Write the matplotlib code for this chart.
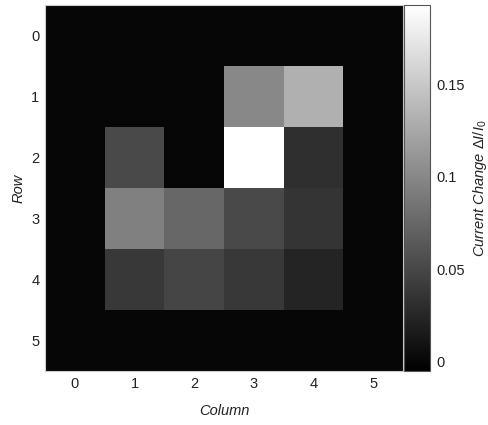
import numpy as np
import matplotlib
matplotlib.use("Agg")
import matplotlib.pyplot as plt

plt.rcParams['font.family'] = ['Liberation Sans', 'DejaVu Sans']
plt.rcParams['mathtext.fontset'] = 'custom'
plt.rcParams['mathtext.rm'] = 'Liberation Sans'
plt.rcParams['mathtext.it'] = 'Liberation Sans:italic'

# current change per pixel (rows 0-5, columns 0-5)
row0 = [0.0, 0.0, 0.0, 0.0, 0.0, 0.0]
row1 = [0.0, 0.0, 0.0, 0.1006, 0.1317, 0.0]
row2 = [0.0, 0.0525, 0.0, 0.193, 0.0315, 0.0]
row3 = [0.0, 0.0944, 0.075, 0.0525, 0.0362, 0.0]
row4 = [0.0, 0.0385, 0.0486, 0.0393, 0.023, 0.0]
row5 = [0.0, 0.0, 0.0, 0.0, 0.0, 0.0]
col_labels = ['0', '1', '2', '3', '4', '5']
row_labels = ['0', '1', '2', '3', '4', '5']
cbar_ticks = [0, 0.05, 0.1, 0.15]
cbar_ticklabels = ['0', '0.05', '0.1', '0.15']

data = np.array([row0, row1, row2, row3, row4, row5])

fig = plt.figure(figsize=(4.89, 4.25), dpi=100)
ax = fig.add_axes([0.092, 0.127, 0.732, 0.861])
cax = fig.add_axes([0.826, 0.127, 0.053, 0.861])

im = ax.imshow(data, cmap='gray', vmin=-0.005, vmax=0.193,
               aspect='auto', interpolation='nearest')

ax.set_xticks(range(len(col_labels)))
ax.set_xticklabels(col_labels)
ax.set_yticks(range(len(row_labels)))
ax.set_yticklabels(row_labels)
ax.tick_params(length=0, labelsize=10.5, labelcolor='#222222', pad=4)
ax.set_xlabel('Column', fontsize=10.5, style='italic', color='#222222', labelpad=10)
ax.set_ylabel('Row', fontsize=10.5, style='italic', color='#222222', labelpad=4)
for s in ax.spines.values():
    s.set_edgecolor('#cccccc')
    s.set_linewidth(0.8)

cb = fig.colorbar(im, cax=cax)
cb.set_ticks(cbar_ticks)
cb.set_ticklabels(cbar_ticklabels)
cb.ax.tick_params(length=0, labelsize=10.5, labelcolor='#222222', pad=5)
cb.outline.set_edgecolor('#555555')
cb.outline.set_linewidth(0.8)
cb.set_label(r'Current Change $\Delta I/I_0$', fontsize=10.5,
             style='italic', color='#222222', labelpad=4)

fig.savefig('out.png', dpi=100)
